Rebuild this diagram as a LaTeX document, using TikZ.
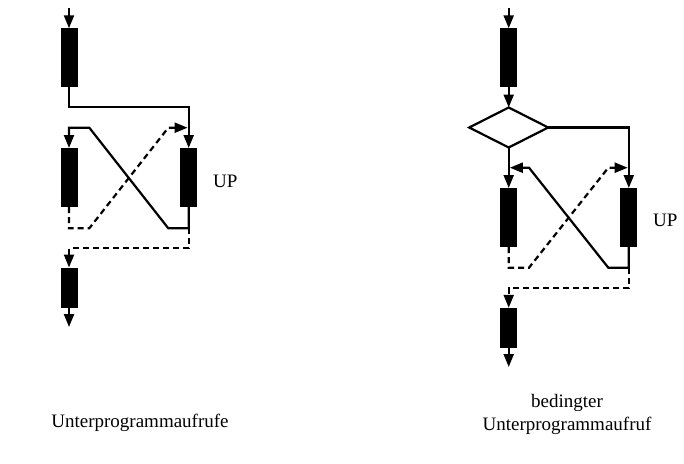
\documentclass[tikz,border=0pt]{standalone}
\usepackage{fontspec}
\setmainfont{Liberation Serif}
\usetikzlibrary{arrows.meta,shapes.geometric}
\begin{document}
\begin{tikzpicture}[x=1pt,y=-1pt,
  line width=2.2pt,
  block/.style={draw=none,fill=black,minimum width=17pt,minimum height=59pt,inner sep=0pt,outer sep=0pt},
  smallblock/.style={block,minimum height=40pt},
  cond/.style={diamond,draw,line width=2.2pt,minimum width=79pt,minimum height=40pt,inner sep=0pt,outer sep=0pt},
  flow/.style={-{Triangle[length=13pt,width=10pt]}},
  ret/.style={dash pattern=on 6pt off 4pt},
  txt/.style={font=\fontsize{19}{23}\selectfont,inner sep=0pt}
]
\useasboundingbox (0,0) rectangle (684,463);

% ---------- subroutine calls ----------
\node[block] (L1) at (69,57.8) {};
\node[block] (L2) at (69,177.5) {};
\node[block] (L3) at (188.7,177.5) {};
\node[smallblock] (L4) at (69,287.5) {};
\coordinate (Lin) at (69,8);
\coordinate (Lout) at (69,327);
\coordinate (Ltop) at (188.7,107.3);
\coordinate (Lc1) at (168.3,228.3);
\coordinate (Lc2) at (89.3,127.7);
\coordinate (Ld1) at (89.3,228.3);
\coordinate (Ld2) at (168.3,127.7);
\coordinate (Ld3) at (187.6,127.7);
\coordinate (Lj) at (188.7,228.3);
\coordinate (Lj2) at (188.7,248.3);

\draw[flow] (Lin) -- (L1.north);
\draw[flow] (L1.south) |- (Ltop) -- (L3.north);
\draw[flow] (L3.south) |- (Lc1) -- (Lc2) -| (L2.north);
\draw[flow,ret] (L2.south) |- (Ld1) -- (Ld2) -- (Ld3);
\draw[flow,ret] (Lj) -- (Lj2) -| (L4.north);
\draw[flow] (L4.south) -- (Lout);

\node[txt,anchor=west] (upL) at (212,181) {UP};
\node[txt,anchor=base] (capL) at (140,427) {Unterprogrammaufrufe};

% ---------- conditional subroutine call ----------
\node[block] (R1) at (508.7,57.8) {};
\node[cond] (D) at (508.7,127.5) {};
\node[block] (R2) at (508.7,217.5) {};
\node[block] (R3) at (628.8,217.5) {};
\node[smallblock] (R4) at (508.7,327.8) {};
\coordinate (Rin) at (508.7,8);
\coordinate (Rout) at (508.7,367);
\coordinate (Rc1) at (608.3,267.7);
\coordinate (Rc2) at (529,167.7);
\coordinate (Rc3) at (509.8,167.7);
\coordinate (Rd1) at (529,267.7);
\coordinate (Rd2) at (608.3,167.7);
\coordinate (Rd3) at (627.7,167.7);
\coordinate (Rj) at (628.8,267.7);
\coordinate (Rj2) at (628.8,288.3);

\draw[flow] (Rin) -- (R1.north);
\draw[flow] (R1.south) -- (D.north);
\draw[flow] (D.east) -| (R3.north);
\draw[flow] (D.south) -- (R2.north);
\draw[flow] (R3.south) |- (Rc1) -- (Rc2) -- (Rc3);
\draw[flow,ret] (R2.south) |- (Rd1) -- (Rd2) -- (Rd3);
\draw[flow,ret] (Rj) -- (Rj2) -| (R4.north);
\draw[flow] (R4.south) -- (Rout);

\node[txt,anchor=west] (upR) at (652,220) {UP};
\node[txt,anchor=base,align=center] (capR) at (567,430) {bedingter\\Unterprogrammaufruf};
\end{tikzpicture}
\end{document}
